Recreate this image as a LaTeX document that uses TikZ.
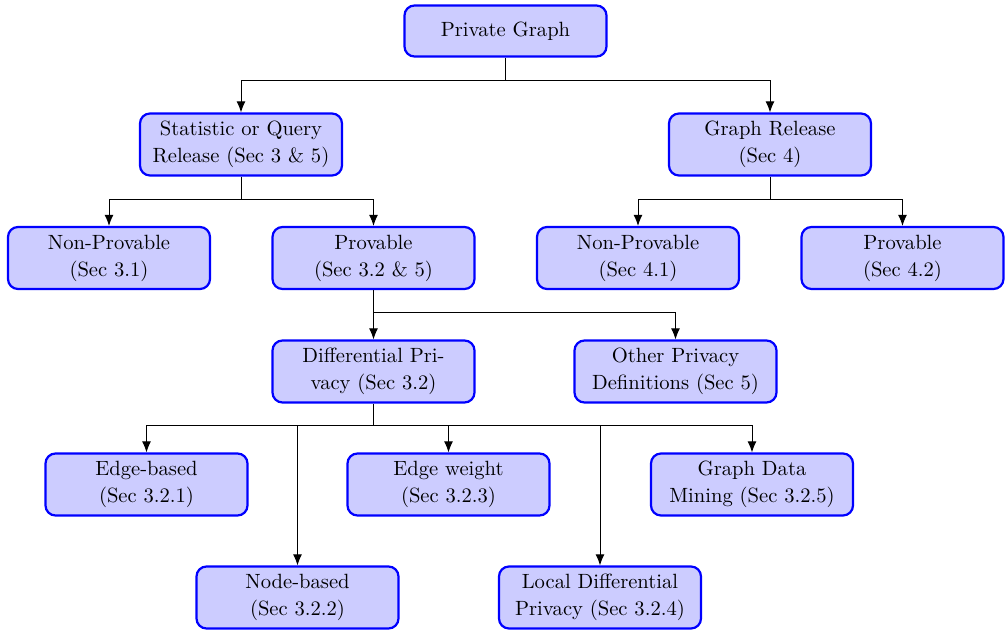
\documentclass[tikz,border=0pt]{standalone}
\usetikzlibrary{arrows.meta}
\begin{document}
\begin{tikzpicture}[x=0.5pt,y=-0.5pt,
  box/.style={draw=blue, fill=blue!20, line width=1.1pt, rounded corners=5pt,
    align=center, minimum width=101pt, minimum height=31pt, inner sep=2pt,
    font=\fontsize{10.3}{13.5}\selectfont},
  arr/.style={-{Latex[length=5.5pt,width=4.5pt]}, line width=0.5pt, black}]
\useasboundingbox (0,0) rectangle (1007,630);
\node[box, minimum height=25.5pt] (pg) at (505.5,31) {Private Graph};
\node[box] (sq) at (241,144.5) {Statistic or Query\\Release (Sec 3 \& 5)};
\node[box] (gr) at (770,144.5) {Graph Release\\(Sec 4)};
\node[box] (np1) at (109,258) {Non-Provable\\(Sec 3.1)};
\node[box] (pv1) at (373.5,258) {Provable\\(Sec 3.2 \& 5)};
\node[box] (np2) at (638,258) {Non-Provable\\(Sec 4.1)};
\node[box] (pv2) at (902.5,258) {Provable\\(Sec 4.2)};
\node[box] (dp) at (373.5,371.5) {Differential Pri-\\vacy (Sec 3.2)};
\node[box] (op) at (675.5,371.5) {Other Privacy\\Definitions (Sec 5)};
\node[box] (eb) at (146.5,484.5) {Edge-based\\(Sec 3.2.1)};
\node[box] (ew) at (448.5,484.5) {Edge weight\\(Sec 3.2.3)};
\node[box] (gd) at (752,484.5) {Graph Data\\Mining (Sec 3.2.5)};
\node[box] (nb) at (297.5,597.5) {Node-based\\(Sec 3.2.2)};
\node[box] (ld) at (600,597.5) {Local Differential\\Privacy (Sec 3.2.4)};
\coordinate (b1) at (505.5,81);
\coordinate (b2) at (241,200);
\coordinate (b3) at (770,200);
\coordinate (b4) at (373.5,313);
\coordinate (b5) at (373.5,426);
\draw[line width=0.5pt] (pg.south) -- (b1);
\draw[arr] (b1) -| (sq.north);
\draw[arr] (b1) -| (gr.north);
\draw[line width=0.5pt] (sq.south) -- (b2);
\draw[arr] (b2) -| (np1.north);
\draw[arr] (b2) -| (pv1.north);
\draw[line width=0.5pt] (gr.south) -- (b3);
\draw[arr] (b3) -| (np2.north);
\draw[arr] (b3) -| (pv2.north);
\draw[arr] (pv1.south) -- (dp.north);
\draw[arr] (b4) -| (op.north);
\draw[line width=0.5pt] (dp.south) -- (b5);
\draw[arr] (b5) -| (eb.north);
\draw[arr] (b5) -| (nb.north);
\draw[arr] (b5) -| (ew.north);
\draw[arr] (b5) -| (ld.north);
\draw[arr] (b5) -| (gd.north);
\end{tikzpicture}
\end{document}
